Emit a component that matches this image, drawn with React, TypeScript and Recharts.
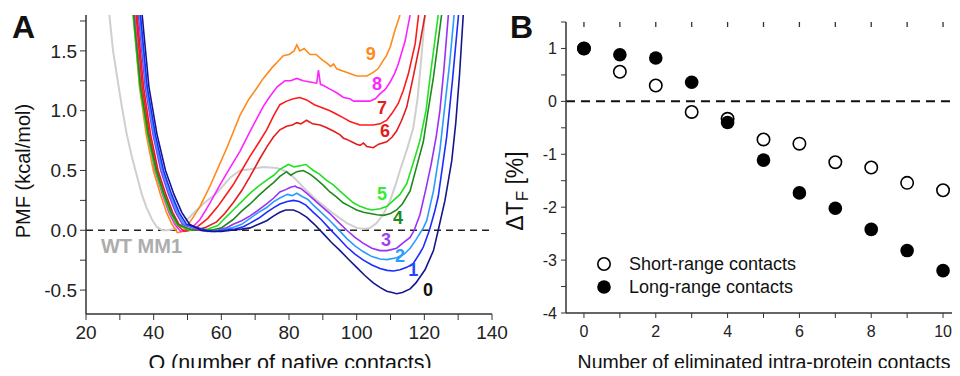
import React from "react"
import {
  LineChart,
  Line,
  XAxis,
  YAxis,
  ReferenceLine,
  ReferenceDot,
  ScatterChart,
  Scatter,
  Legend
} from "recharts"

type Pt = [number, number]

// Panel A: PMF vs Q, one array per curve (label = number of eliminated contacts)
const wtMM1: Pt[] = [
  [26.9, 1.8], [28.0, 1.5], [29.1, 1.3], [30.5, 1.05], [32.0, 0.81], [33.5, 0.62], [35.0, 0.46],
  [36.5, 0.3], [37.9, 0.19], [39.5, 0.09], [40.9, 0.03], [42.5, 0.0], [44.0, 0.0], [46.0, 0.01],
  [48.5, 0.05], [51.7, 0.14], [55.0, 0.23], [58.6, 0.31], [62.6, 0.44], [65.5, 0.5], [68.5, 0.51],
  [72.4, 0.53], [76.4, 0.52], [78.5, 0.5], [80.3, 0.47], [82.2, 0.42], [84.2, 0.36], [88.2, 0.25],
  [93.1, 0.14], [97.1, 0.06], [100.0, 0.02], [102.0, 0.01], [104.0, 0.02], [105.9, 0.06], [108.0, 0.14],
  [109.9, 0.25], [111.5, 0.38], [112.8, 0.5], [114.8, 0.67], [116.7, 0.85], [118.0, 1.1], [119.2, 1.47],
  [120.2, 1.8]
]

const curve9: Pt[] = [
  [34.0, 1.8], [35.8, 1.2], [37.8, 0.8], [39.9, 0.5], [42.0, 0.3], [43.8, 0.15], [45.4, 0.05],
  [47.0, -0.02], [48.5, -0.01], [50.0, 0.04], [51.7, 0.11], [53.7, 0.2], [56.5, 0.36], [59.0, 0.52],
  [61.5, 0.68], [63.5, 0.82], [65.5, 0.96], [68.0, 1.09], [70.5, 1.19], [72.4, 1.27], [75.0, 1.36],
  [77.0, 1.42], [78.3, 1.46], [80.0, 1.47], [81.5, 1.5], [82.3, 1.55], [83.2, 1.5], [84.5, 1.52],
  [86.2, 1.47], [88.0, 1.47], [90.0, 1.42], [91.1, 1.4], [92.3, 1.37], [93.2, 1.39], [94.1, 1.35],
  [96.1, 1.33], [98.0, 1.31], [100.0, 1.29], [101.5, 1.29], [103.0, 1.29], [104.9, 1.32], [106.3, 1.35],
  [107.4, 1.4], [108.8, 1.46], [109.9, 1.53], [111.3, 1.67], [112.8, 1.8]
]

const curve8: Pt[] = [
  [34.4, 1.8], [36.2, 1.2], [38.3, 0.8], [40.4, 0.5], [42.6, 0.3], [44.5, 0.15], [46.2, 0.05],
  [48.0, -0.01], [50.0, 0.0], [52.0, 0.04], [53.7, 0.09], [56.5, 0.22], [59.6, 0.38], [62.5, 0.52],
  [65.5, 0.66], [68.0, 0.8], [70.4, 0.93], [72.5, 1.04], [74.4, 1.12], [76.5, 1.2], [78.8, 1.25],
  [80.5, 1.25], [82.3, 1.27], [84.2, 1.25], [86.2, 1.24], [88.2, 1.23], [88.7, 1.34], [89.3, 1.22],
  [90.2, 1.21], [92.1, 1.18], [94.1, 1.15], [96.1, 1.11], [98.0, 1.1], [99.1, 1.08], [101.5, 1.08],
  [103.9, 1.08], [105.5, 1.1], [106.9, 1.14], [108.5, 1.18], [109.9, 1.24], [111.2, 1.31], [112.3, 1.39],
  [114.3, 1.58], [115.8, 1.8]
]

const curve7: Pt[] = [
  [34.8, 1.8], [36.6, 1.2], [38.7, 0.8], [40.9, 0.5], [43.1, 0.3], [45.0, 0.15], [46.8, 0.05],
  [49.0, -0.01], [51.0, 0.0], [53.0, 0.03], [56.0, 0.1], [59.0, 0.2], [61.0, 0.28], [63.5, 0.38],
  [66.0, 0.5], [68.5, 0.62], [71.0, 0.73], [73.4, 0.84], [75.5, 0.96], [77.3, 1.05], [79.3, 1.08],
  [81.3, 1.1], [83.2, 1.11], [85.2, 1.09], [87.5, 1.05], [90.2, 1.02], [92.1, 1.0], [94.1, 0.97],
  [96.1, 0.94], [98.0, 0.91], [101.0, 0.88], [103.0, 0.88], [104.9, 0.88], [106.9, 0.89], [108.9, 0.92],
  [110.5, 0.98], [112.3, 1.06], [113.8, 1.17], [115.3, 1.31], [117.3, 1.56], [118.3, 1.8]
]

const curve6: Pt[] = [
  [35.1, 1.8], [37.0, 1.2], [39.1, 0.8], [41.3, 0.5], [43.6, 0.3], [45.6, 0.15], [47.5, 0.05],
  [50.0, 0.0], [52.0, 0.0], [55.0, 0.02], [58.6, 0.07], [61.0, 0.14], [63.5, 0.23], [66.0, 0.33],
  [68.5, 0.45], [71.4, 0.6], [73.5, 0.7], [75.4, 0.78], [77.3, 0.84], [79.3, 0.87], [81.0, 0.88],
  [82.3, 0.9], [83.5, 0.89], [85.2, 0.92], [87.0, 0.89], [89.2, 0.88], [91.0, 0.86], [93.1, 0.83],
  [95.0, 0.8], [96.1, 0.77], [97.1, 0.76], [98.5, 0.74], [100.0, 0.72], [101.0, 0.71], [102.0, 0.73],
  [103.0, 0.7], [104.9, 0.69], [106.5, 0.72], [108.9, 0.74], [110.5, 0.78], [111.8, 0.83], [113.3, 0.92],
  [114.8, 1.03], [116.7, 1.28], [118.7, 1.56], [120.2, 1.8]
]

const curve5: Pt[] = [
  [33.9, 1.8], [35.9, 1.2], [38.2, 0.8], [40.5, 0.5], [42.8, 0.3], [44.8, 0.15], [46.8, 0.05],
  [50.5, 0.0], [53.0, 0.0], [56.0, 0.01], [59.0, 0.04], [61.0, 0.1], [63.5, 0.17], [66.0, 0.24],
  [68.5, 0.31], [71.0, 0.37], [73.4, 0.42], [75.5, 0.46], [77.3, 0.51], [79.8, 0.55], [81.5, 0.53],
  [83.3, 0.54], [85.0, 0.55], [87.2, 0.5], [89.0, 0.47], [91.0, 0.42], [93.1, 0.38], [95.0, 0.33],
  [97.0, 0.28], [99.0, 0.23], [101.0, 0.2], [103.0, 0.18], [104.5, 0.17], [106.9, 0.18], [109.0, 0.2],
  [110.9, 0.25], [112.8, 0.3], [114.8, 0.39], [116.7, 0.56], [118.7, 0.75], [120.5, 1.0], [121.7, 1.28],
  [124.1, 1.8]
]

const curve4: Pt[] = [
  [34.1, 1.8], [36.1, 1.2], [38.4, 0.8], [40.8, 0.5], [43.1, 0.3], [45.2, 0.15], [47.2, 0.05],
  [51.5, 0.0], [54.0, 0.0], [57.0, 0.0], [60.0, 0.02], [63.5, 0.09], [66.0, 0.16], [68.5, 0.22],
  [71.0, 0.29], [73.4, 0.35], [75.5, 0.4], [77.3, 0.45], [79.3, 0.49], [80.5, 0.46], [82.3, 0.49],
  [84.2, 0.5], [86.2, 0.47], [88.0, 0.43], [90.0, 0.38], [92.1, 0.32], [94.0, 0.28], [96.0, 0.23],
  [98.0, 0.2], [100.0, 0.17], [102.0, 0.15], [104.0, 0.14], [106.0, 0.13], [108.0, 0.125], [110.0, 0.14],
  [111.8, 0.17], [113.5, 0.22], [115.8, 0.33], [117.7, 0.53], [119.7, 0.74], [121.0, 0.98], [122.7, 1.28],
  [125.1, 1.8]
]

const curve3: Pt[] = [
  [35.5, 1.8], [37.5, 1.2], [39.8, 0.8], [42.1, 0.5], [44.4, 0.3], [46.5, 0.15], [48.5, 0.05],
  [53.5, 0.0], [56.0, -0.01], [59.0, 0.0], [61.5, 0.02], [63.5, 0.05], [66.0, 0.08], [68.5, 0.12],
  [71.0, 0.17], [73.4, 0.22], [75.5, 0.27], [77.3, 0.32], [79.0, 0.34], [80.5, 0.36], [81.8, 0.37],
  [82.3, 0.36], [83.5, 0.35], [85.2, 0.31], [87.2, 0.26], [89.2, 0.21], [92.1, 0.14], [94.5, 0.07],
  [97.1, 0.0], [99.5, -0.06], [102.0, -0.11], [104.5, -0.15], [106.9, -0.17], [109.0, -0.17], [111.8, -0.15],
  [114.0, -0.1], [115.8, -0.06], [117.0, 0.0], [118.7, 0.13], [120.5, 0.35], [122.0, 0.55], [123.5, 0.78],
  [124.6, 1.0], [125.8, 1.35], [127.1, 1.8]
]

const curve2: Pt[] = [
  [35.8, 1.8], [37.8, 1.2], [40.1, 0.8], [42.5, 0.5], [44.8, 0.3], [47.0, 0.15], [49.1, 0.05],
  [54.5, 0.0], [57.0, -0.01], [60.0, 0.0], [63.0, 0.02], [66.0, 0.05], [68.5, 0.1], [71.0, 0.15],
  [73.4, 0.19], [75.5, 0.24], [77.3, 0.27], [79.5, 0.3], [81.0, 0.29], [82.3, 0.31], [84.0, 0.28],
  [85.5, 0.26], [87.2, 0.21], [89.5, 0.15], [92.1, 0.08], [94.5, 0.01], [97.1, -0.07], [99.5, -0.13],
  [102.0, -0.18], [104.5, -0.22], [106.9, -0.24], [109.0, -0.245], [111.8, -0.23], [114.0, -0.2],
  [115.8, -0.15], [117.5, -0.08], [119.7, 0.02], [120.7, 0.08], [122.7, 0.33], [124.6, 0.67],
  [126.1, 1.05], [127.5, 1.4], [128.8, 1.8]
]

const curve1: Pt[] = [
  [36.1, 1.8], [38.1, 1.2], [40.5, 0.8], [42.9, 0.5], [45.3, 0.3], [47.5, 0.15], [49.7, 0.05],
  [55.5, 0.0], [58.0, -0.01], [61.0, 0.0], [64.0, 0.01], [66.5, 0.03], [68.5, 0.06], [71.0, 0.1],
  [73.4, 0.15], [75.5, 0.19], [77.3, 0.22], [79.5, 0.24], [81.3, 0.25], [83.0, 0.24], [85.0, 0.21],
  [87.2, 0.15], [89.5, 0.09], [92.1, 0.01], [94.5, -0.06], [97.1, -0.14], [99.5, -0.2], [102.0, -0.25],
  [104.5, -0.29], [106.9, -0.32], [109.0, -0.335], [110.9, -0.34], [112.8, -0.33], [114.8, -0.31],
  [116.7, -0.28], [118.7, -0.19], [119.7, -0.14], [121.5, 0.0], [123.0, 0.15], [124.1, 0.28],
  [125.6, 0.58], [126.6, 0.78], [128.3, 1.25], [130.1, 1.8]
]

const curve0: Pt[] = [
  [36.6, 1.8], [38.6, 1.2], [41.0, 0.8], [43.5, 0.5], [46.0, 0.3], [48.3, 0.15], [50.6, 0.05],
  [54.0, 0.0], [57.0, -0.01], [60.0, -0.01], [63.0, 0.0], [66.0, 0.01], [68.5, 0.02], [71.0, 0.05],
  [73.4, 0.08], [75.5, 0.12], [77.3, 0.15], [79.0, 0.17], [81.3, 0.17], [83.0, 0.15], [85.2, 0.11],
  [87.5, 0.05], [90.2, -0.03], [92.5, -0.1], [95.1, -0.17], [97.5, -0.24], [100.0, -0.31], [102.5, -0.38],
  [104.9, -0.44], [107.0, -0.48], [108.9, -0.51], [110.5, -0.52], [111.8, -0.53], [113.5, -0.52],
  [115.8, -0.49], [117.5, -0.44], [120.2, -0.33], [122.7, -0.17], [124.1, 0.0], [126.1, 0.25],
  [128.1, 0.58], [129.3, 0.9], [130.4, 1.3], [131.5, 1.8]
]

const qTicks = [20, 30, 40, 50, 60, 70, 80, 90, 100, 110, 120, 130, 140]
const pmfTicks = [-0.5, -0.25, 0, 0.25, 0.5, 0.75, 1, 1.25, 1.5, 1.75]

// Panel B: change of folding temperature
const eliminated = [0, 1, 2, 3, 4, 5, 6, 7, 8, 9, 10]
const shortRange = [1.0, 0.56, 0.3, -0.2, -0.33, -0.72, -0.8, -1.15, -1.25, -1.54, -1.68]
const longRange = [1.0, 0.88, 0.82, 0.36, -0.4, -1.11, -1.73, -2.02, -2.42, -2.82, -3.2]
const bXTicks = [0, 1, 2, 3, 4, 5, 6, 7, 8, 9, 10]
const bYTicks = [-4, -3.5, -3, -2.5, -2, -1.5, -1, -0.5, 0, 0.5, 1, 1.5]
const bXDomain: [number, number] = [-0.5, 10.5]
const bYDomain: [number, number] = [-4, 1.5]

const FONT = "'Liberation Sans', Arial, Helvetica, sans-serif"
const AXIS = { stroke: "#333", strokeWidth: 1.5 }

const pmfCurves = [
  { name: "WT MM1", data: wtMM1, color: "#cfcfcf", width: 2 },
  { name: "9", data: curve9, color: "#ff8a1c", width: 1.6 },
  { name: "8", data: curve8, color: "#ff24ff", width: 1.6 },
  { name: "7", data: curve7, color: "#ff1a1a", width: 1.6 },
  { name: "6", data: curve6, color: "#e41c1c", width: 1.6 },
  { name: "5", data: curve5, color: "#22e022", width: 1.6 },
  { name: "4", data: curve4, color: "#1e8a1e", width: 1.6 },
  { name: "3", data: curve3, color: "#9b30f5", width: 1.6 },
  { name: "2", data: curve2, color: "#2b9bff", width: 1.6 },
  { name: "1", data: curve1, color: "#1a2cff", width: 1.6 },
  { name: "0", data: curve0, color: "#16168c", width: 1.6 }
]

const curveLabels = [
  { text: "9", q: 104.2, v: 1.48, color: "#ff8a1c" },
  { text: "8", q: 106.0, v: 1.23, color: "#ff24ff" },
  { text: "7", q: 107.5, v: 1.025, color: "#e41c1c" },
  { text: "6", q: 108.4, v: 0.83, color: "#e41c1c" },
  { text: "5", q: 107.5, v: 0.31, color: "#33ee33" },
  { text: "4", q: 112.2, v: 0.11, color: "#1e8a1e" },
  { text: "3", q: 108.7, v: -0.075, color: "#a040f0" },
  { text: "2", q: 112.8, v: -0.21, color: "#2b9bff" },
  { text: "1", q: 116.7, v: -0.325, color: "#1f49ff" },
  { text: "0", q: 121.1, v: -0.5, color: "#111" }
]

// inward tick marks on top/right of panel B, lengths in data units (~5 px)
const TOP_TICK = 0.095
const RIGHT_TICK = 0.15

const toRows = (pts: Pt[]) => pts.map(([q, v]) => ({ q, v }))
const isStep = (v: number, step: number) => Math.abs(v / step - Math.round(v / step)) < 1e-6

const openDot = (p: any) => (
  <circle cx={p.cx} cy={p.cy} r={6.2} fill="#fff" stroke="#000" strokeWidth={1.6} />
)
const filledDot = (p: any) => <circle cx={p.cx} cy={p.cy} r={6.8} fill="#000" />

function BLegend() {
  return (
    <svg width={230} height={48} style={{ fontFamily: FONT }}>
      <circle cx={12} cy={12} r={6.2} fill="#fff" stroke="#000" strokeWidth={1.6} />
      <text x={37} y={12} dominantBaseline="central" fontSize={18} fill="#111">
        Short-range contacts
      </text>
      <circle cx={12} cy={35} r={6.8} fill="#000" />
      <text x={37} y={35} dominantBaseline="central" fontSize={18} fill="#111">
        Long-range contacts
      </text>
    </svg>
  )
}

function PanelA() {
  return (
    <LineChart width={512} height={376} margin={{ top: 15, right: 20, bottom: 22, left: 26 }}>
      <XAxis
        xAxisId="top"
        orientation="top"
        type="number"
        domain={[20, 140]}
        height={0}
        tick={false}
        tickLine={false}
        axisLine={AXIS}
        allowDataOverflow
      />
      <YAxis
        yAxisId="right"
        orientation="right"
        type="number"
        domain={[-0.7, 1.8]}
        width={0}
        tick={false}
        tickLine={false}
        axisLine={AXIS}
        allowDataOverflow
      />
      <XAxis
        type="number"
        dataKey="q"
        domain={[20, 140]}
        ticks={qTicks}
        interval={0}
        allowDataOverflow
        height={40}
        tickSize={6}
        tickMargin={6}
        axisLine={AXIS}
        tickLine={{ stroke: "#333" }}
        tick={{ fill: "#222", fontSize: 19 }}
        tickFormatter={(v: number) => (isStep(v, 20) ? String(v) : "")}
      />
      <YAxis
        type="number"
        domain={[-0.7, 1.8]}
        ticks={pmfTicks}
        interval={0}
        allowDataOverflow
        width={60}
        tickSize={6}
        tickMargin={3}
        axisLine={AXIS}
        tickLine={{ stroke: "#333" }}
        tick={{ fill: "#222", fontSize: 19 }}
        tickFormatter={(v: number) => (isStep(v, 0.5) ? v.toFixed(1) : "")}
      />
      <ReferenceLine y={0} stroke="#222" strokeWidth={1.5} strokeDasharray="7 5" />
      {pmfCurves.map((c) => (
        <Line
          key={c.name}
          data={toRows(c.data)}
          dataKey="v"
          type="linear"
          stroke={c.color}
          strokeWidth={c.width}
          dot={false}
          isAnimationActive={false}
        />
      ))}
      {curveLabels.map((l) => (
        <ReferenceDot
          key={l.text}
          x={l.q}
          y={l.v}
          r={0}
          stroke="none"
          fill="none"
          label={{ value: l.text, fill: l.color, fontSize: 18, fontWeight: 700, position: "center" }}
        />
      ))}
      <ReferenceDot
        x={36.4}
        y={-0.13}
        r={0}
        stroke="none"
        fill="none"
        label={{ value: "WT MM1", fill: "#adadad", fontSize: 20, fontWeight: 700, position: "center" }}
      />
    </LineChart>
  )
}

function PanelB() {
  const shortRows = eliminated.map((n, i) => ({ n, dt: shortRange[i] }))
  const longRows = eliminated.map((n, i) => ({ n, dt: longRange[i] }))
  return (
    <ScatterChart width={500} height={376} margin={{ top: 22, right: 19, bottom: 23, left: 26 }}>
      <XAxis
        xAxisId="top"
        orientation="top"
        type="number"
        domain={bXDomain}
        height={0}
        tick={false}
        tickLine={false}
        axisLine={AXIS}
      />
      <YAxis
        yAxisId="right"
        orientation="right"
        type="number"
        domain={bYDomain}
        width={0}
        tick={false}
        tickLine={false}
        axisLine={AXIS}
      />
      <XAxis
        type="number"
        dataKey="n"
        domain={bXDomain}
        ticks={bXTicks}
        interval={0}
        height={40}
        tickSize={5}
        tickMargin={8}
        axisLine={AXIS}
        tickLine={{ stroke: "#333" }}
        tick={{ fill: "#222", fontSize: 16 }}
        tickFormatter={(v: number) => (isStep(v, 2) ? String(v) : "")}
      />
      <YAxis
        type="number"
        dataKey="dt"
        domain={bYDomain}
        ticks={bYTicks}
        interval={0}
        width={60}
        tickSize={5}
        tickMargin={4}
        axisLine={AXIS}
        tickLine={{ stroke: "#333" }}
        tick={{ fill: "#222", fontSize: 16 }}
        tickFormatter={(v: number) => (isStep(v, 1) ? String(v) : "")}
      />
      {bXTicks.map((t) => (
        <ReferenceLine
          key={"tx" + t}
          segment={[{ x: t, y: bYDomain[1] }, { x: t, y: bYDomain[1] - TOP_TICK }]}
          stroke="#333"
          strokeWidth={1.3}
        />
      ))}
      {bYTicks.map((t) => (
        <ReferenceLine
          key={"ty" + t}
          segment={[{ x: bXDomain[1], y: t }, { x: bXDomain[1] - RIGHT_TICK, y: t }]}
          stroke="#333"
          strokeWidth={1.3}
        />
      ))}
      <ReferenceLine y={0} stroke="#111" strokeWidth={2} strokeDasharray="9 6" />
      <Scatter name="Short-range contacts" data={shortRows} shape={openDot} isAnimationActive={false} />
      <Scatter name="Long-range contacts" data={longRows} shape={filledDot} isAnimationActive={false} />
      <Legend
        layout="vertical"
        align="center"
        verticalAlign="middle"
        content={() => <BLegend />}
        wrapperStyle={{ left: 112, top: 252, width: 230, height: 48 }}
      />
    </ScatterChart>
  )
}

const title: React.CSSProperties = { position: "absolute", color: "#111", whiteSpace: "nowrap", textAlign: "center" }

export default function App() {
  return (
    <div
      style={{
        position: "relative",
        width: 960,
        height: 376,
        margin: -8,
        overflow: "hidden",
        background: "#fff",
        fontFamily: FONT
      }}
    >
      <div style={{ position: "absolute", left: 0, top: 0 }}>
        <PanelA />
      </div>
      <div style={{ position: "absolute", left: 480, top: 0 }}>
        <PanelB />
      </div>

      <div style={{ ...title, left: 12, top: 11, fontSize: 32, lineHeight: "32px", fontWeight: 700, textAlign: "left" }}>A</div>
      <div style={{ ...title, left: 510, top: 11, fontSize: 32, lineHeight: "32px", fontWeight: 700, textAlign: "left" }}>B</div>

      <div
        style={{ ...title, left: 23 - 100, top: 171 - 12, width: 200, fontSize: 20, lineHeight: "24px", transform: "rotate(-90deg)" }}
      >
        PMF (kcal/mol)
      </div>
      <div style={{ ...title, left: 90, top: 351, width: 400, fontSize: 21.5, lineHeight: "24px" }}>
        Q (number of native contacts)
      </div>

      <div
        style={{ ...title, left: 519 - 100, top: 187 - 14, width: 200, fontSize: 23, lineHeight: "28px", transform: "rotate(-90deg)" }}
      >
        ΔT<sub style={{ fontSize: 17, verticalAlign: "-5px" }}>F</sub> [%]
      </div>
      <div style={{ ...title, left: 564, top: 350, width: 400, fontSize: 19.5, lineHeight: "24px" }}>
        Number of eliminated intra-protein contacts
      </div>
    </div>
  )
}
